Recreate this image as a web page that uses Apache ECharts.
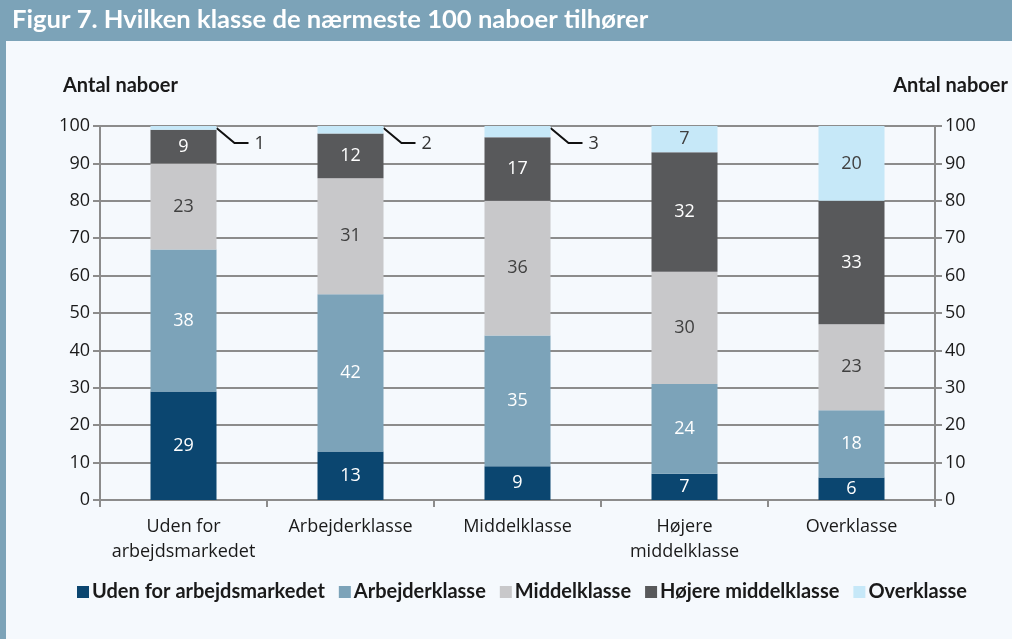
<!DOCTYPE html>
<html>
<head>
<meta charset="utf-8">
<script src="https://cdn.jsdelivr.net/npm/echarts@6/dist/echarts.min.js"></script>
<style>
  html, body { margin: 0; padding: 0; background: #f5f9fd; }
  #chart { width: 1012px; height: 639px; }
</style>
</head>
<body>
<div id="chart"></div>
<script>
// data
const categories = ['Uden for\narbejdsmarkedet', 'Arbejderklasse', 'Middelklasse', 'Højere\nmiddelklasse', 'Overklasse']
const seriesNames = ['Uden for arbejdsmarkedet', 'Arbejderklasse', 'Middelklasse', 'Højere middelklasse', 'Overklasse']
const udenFor = [29, 13, 9, 7, 6]
const arbejder = [38, 42, 35, 24, 18]
const middel = [23, 31, 36, 30, 23]
const hoejere = [9, 12, 17, 32, 33]
const over = [1, 2, 3, 7, 20]
const yTicks = [0, 10, 20, 30, 40, 50, 60, 70, 80, 90, 100]

const colors = ['#0b4670', '#7ca3b9', '#c8c8ca', '#58595b', '#c6e8f8']
const labelColors = ['#ffffff', '#ffffff', '#404040', '#ffffff', '#404040']
const values = [udenFor, arbejder, middel, hoejere, over]
const smallLimit = 5   // top segments below this get an outside label

const chart = echarts.init(document.getElementById('chart'))
const baseFont = '"Open Sans", sans-serif'
const axisGray = '#8c8c8c'
const barWidth = 66

const series = values.map((data, i) => ({
  name: seriesNames[i],
  type: 'bar',
  stack: 'total',
  barWidth: barWidth,
  data: data,
  itemStyle: { color: colors[i] },
  label: {
    show: true,
    position: 'inside',
    color: labelColors[i],
    fontFamily: baseFont,
    fontSize: 18,
    formatter: p => (i === 4 && p.value < smallLimit ? '' : p.value)
  }
}))

// leader lines for the thin Overklasse segments
const leaderData = over.map((v, idx) => [idx, v]).filter(d => d[1] < smallLimit)
series.push({
  type: 'custom',
  name: 'leader',
  silent: true,
  data: leaderData,
  renderItem: function (params, api) {
    const top = api.coord([api.value(0), 100])
    const x0 = top[0] + barWidth / 2
    const y0 = top[1] + 2
    return {
      type: 'group',
      children: [
        {
          type: 'polyline',
          shape: { points: [[x0, y0], [x0 + 18, y0 + 15], [x0 + 32, y0 + 15]] },
          style: { stroke: '#111', lineWidth: 2, fill: null }
        },
        {
          type: 'text',
          x: x0 + 38,
          y: y0 + 16,
          style: {
            text: String(api.value(1)),
            fill: '#333',
            font: '18px ' + baseFont,
            verticalAlign: 'middle',
            align: 'left'
          }
        }
      ]
    }
  }
})

const yAxisBase = {
  type: 'value',
  min: 0,
  max: 100,
  interval: 10,
  axisLine: { show: true, lineStyle: { color: axisGray, width: 2 } },
  axisTick: { show: true, inside: false, length: 7, lineStyle: { color: axisGray, width: 2 } },
  axisLabel: {
    color: '#1a1a1a',
    fontFamily: baseFont,
    fontSize: 18,
    margin: 10,
    formatter: v => (yTicks.indexOf(v) >= 0 ? v : '')
  },
  splitLine: { show: true, lineStyle: { color: axisGray, width: 2 } }
}

const option = {
  backgroundColor: '#f5f9fd',
  animation: false,
  graphic: [
    { type: 'rect', left: 0, top: 0, shape: { width: 1012, height: 41 }, style: { fill: '#7ca3b8' } },
    { type: 'rect', left: 0, top: 41, shape: { width: 6, height: 598 }, style: { fill: '#7ca3b8' } },
    {
      type: 'text', left: 12, top: 7,
      style: { text: 'Figur 7. Hvilken klasse de nærmeste 100 naboer tilhører', fill: '#ffffff', font: 'bold 25.6px Lato, sans-serif' }
    },
    {
      type: 'text', left: 63, top: 76,
      style: { text: 'Antal naboer', fill: '#1a1a1a', font: 'bold 20px Lato, sans-serif' }
    },
    {
      type: 'text', right: 4, top: 76,
      style: { text: 'Antal naboer', fill: '#1a1a1a', font: 'bold 20px Lato, sans-serif' }
    }
  ],
  legend: {
    bottom: 32,
    left: 72,
    icon: 'rect',
    itemWidth: 12,
    itemHeight: 12,
    itemGap: 14,
    data: seriesNames,
    textStyle: { color: '#1a1a1a', fontFamily: 'Lato, sans-serif', fontWeight: 'bold', fontSize: 20, padding: [0, 0, 0, -2] }
  },
  grid: { left: 100, right: 77, top: 126, bottom: 139 },
  xAxis: {
    type: 'category',
    data: categories,
    axisLine: { show: true, lineStyle: { color: axisGray, width: 2 } },
    axisTick: { show: true, length: 7, lineStyle: { color: axisGray, width: 2 } },
    axisLabel: { interval: 0, color: '#1a1a1a', fontFamily: baseFont, fontSize: 18, margin: 14, lineHeight: 25 }
  },
  yAxis: [
    Object.assign({}, yAxisBase, { position: 'left' }),
    Object.assign({}, yAxisBase, { position: 'right', splitLine: { show: false } })
  ],
  series: series
}

chart.setOption(option)
window.addEventListener('resize', () => chart.resize())
</script>
</body>
</html>
